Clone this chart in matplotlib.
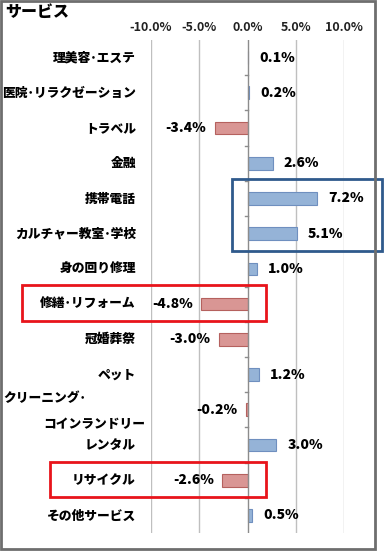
import matplotlib
matplotlib.use('Agg')
import matplotlib.pyplot as plt
import matplotlib.patches as mpatches
from matplotlib.transforms import blended_transform_factory

plt.rcParams['font.family'] = ['Noto Sans CJK JP', 'DejaVu Sans']

title = 'サービス'
cats = ['理美容･エステ', '医院･リラクゼーション', 'トラベル', '金融', '携帯電話',
        'カルチャー教室･学校', '身の回り修理', '修繕･リフォーム', '冠婚葬祭', 'ペット',
        'クリーニング･コインランドリー', 'レンタル', 'リサイクル', 'その他サービス']
vals = [0.1, 0.2, -3.4, 2.6, 7.2, 5.1, 1.0, -4.8, -3.0, 1.2, -0.2, 3.0, -2.6, 0.5]
xticks = [-10, -5, 0, 5, 10]
blue_rows = (4, 5)
red_rows = [7, 12]

W, H = 384, 556
fig = plt.figure(figsize=(W / 100, H / 100), dpi=100)
ax = fig.add_axes([151 / W, 1 - 533 / H, (344 - 151) / W, (533 - 40) / H])

pos_c, pos_e = '#95B3D7', '#6F8FBF'
neg_c, neg_e = '#D99694', '#B5615E'
y = list(range(len(cats)))
colors = [pos_c if v >= 0 else neg_c for v in vals]
edges = [pos_e if v >= 0 else neg_e for v in vals]
ax.barh(y, vals, height=0.36, color=colors, edgecolor=edges, linewidth=0.8, zorder=3)

ax.set_xlim(-10, 10)
ax.set_ylim(len(cats) - 0.5, -0.5)
for x in xticks:
    if x != 0:
        ax.axvline(x, color='#BFBFBF', lw=1, zorder=1)
ax.axvline(0, color='#8C8C8C', lw=1, zorder=4)

for s in ax.spines.values():
    s.set_visible(False)
ax.xaxis.tick_top()
ax.set_xticks(xticks)
ax.set_xticklabels(['%.1f%%' % v for v in xticks], fontweight='bold', fontsize=9)
ax.tick_params(axis='x', length=0, pad=4, colors='#222222')
ax.set_yticks([])
# small ticks on zero axis between categories
for b in [i + 0.5 for i in range(len(cats) - 1)]:
    ax.plot([-0.3, 0], [b, b], color='#8C8C8C', lw=1, zorder=4, clip_on=False)

# value labels
for i, v in enumerate(vals):
    if v >= 0:
        ax.annotate('%.1f%%' % v, (v, i), xytext=(8, 0), textcoords='offset points',
                    ha='left', va='center', fontsize=10, fontweight='heavy')
    else:
        ax.annotate('%.1f%%' % v, (v, i), xytext=(-6, 0), textcoords='offset points',
                    ha='right', va='center', fontsize=10, fontweight='heavy')

# category labels
tr = blended_transform_factory(fig.transFigure, ax.transData)
for i, c in enumerate(cats):
    if c.startswith('クリーニング'):
        ax.text(3 / W, i - 0.32, 'クリーニング･', transform=tr, ha='left', va='center',
                fontsize=9.2, fontweight='heavy')
        ax.text(145 / W, i + 0.4, 'コインランドリー', transform=tr, ha='right', va='center',
                fontsize=9.2, fontweight='heavy')
    else:
        ax.text(136 / W, i, c, transform=tr, ha='right', va='center',
                fontsize=9.2, fontweight='heavy')

fig.text(5 / W, 1 - 12 / H, title, ha='left', va='center', fontsize=11.5, fontweight='heavy')

# highlight boxes
r0, r1 = blue_rows
ax.add_patch(mpatches.Rectangle((232 / W, r0 - 0.55), 150 / W, r1 - r0 + 1.05, transform=tr,
                                fill=False, edgecolor='#2F5A8C', lw=2, clip_on=False, zorder=5))
for r in red_rows:
    x0 = 22 if r == 7 else 50
    ax.add_patch(mpatches.Rectangle((x0 / W, r - 0.53), (266 - x0) / W, 1.02, transform=tr,
                                    fill=False, edgecolor='#E8141B', lw=2, clip_on=False, zorder=5))

# outer frame
fig.patches.append(mpatches.Rectangle((1 / W, 1 - 549 / H), 374 / W, 548 / H,
                                      transform=fig.transFigure, fill=False,
                                      edgecolor='#6E6E6E', lw=2))

fig.savefig('out.png', dpi=100)
